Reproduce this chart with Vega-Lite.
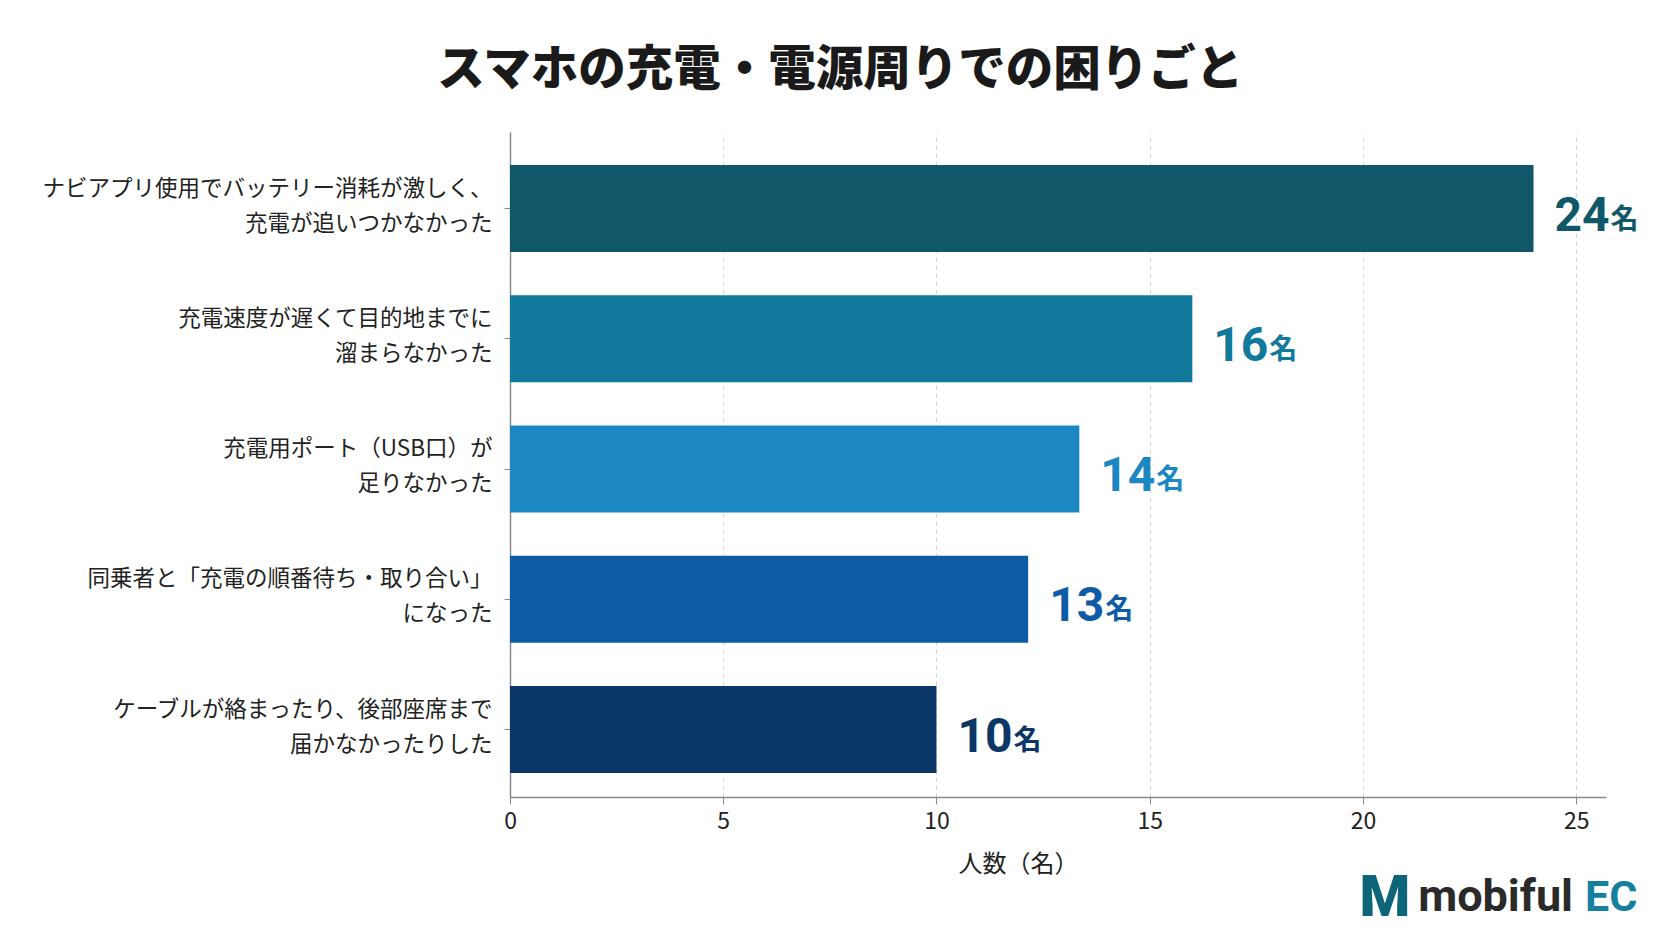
{
  "$schema": "https://vega.github.io/schema/vega-lite/v6.json",
  "width": 1096,
  "height": 665,
  "autosize": {"type": "none"},
  "padding": {"left": 510, "top": 132, "right": 66, "bottom": 144},
  "background": "#ffffff",
  "title": {
    "text": "スマホの充電・電源周りでの困りごと",
    "font": "Noto Sans CJK JP",
    "fontSize": 47.5,
    "fontWeight": 900,
    "color": "#1a1a1a",
    "anchor": "middle",
    "frame": "bounds",
    "offset": 38
  },
  "data": {
    "values": [
      {"label": "ナビアプリ使用でバッテリー消耗が激しく、\n充電が追いつかなかった", "value": 24, "count": 24},
      {"label": "充電速度が遅くて目的地までに\n溜まらなかった", "value": 16, "count": 16},
      {"label": "充電用ポート（USB口）が\n足りなかった", "value": 13.35, "count": 14},
      {"label": "同乗者と「充電の順番待ち・取り合い」\nになった", "value": 12.15, "count": 13},
      {"label": "ケーブルが絡まったり、後部座席まで\n届かなかったりした", "value": 10, "count": 10}
    ]
  },
  "encoding": {
    "y": {
      "field": "label",
      "type": "nominal",
      "sort": null,
      "scale": {"paddingInner": 0.332, "paddingOuter": 0.219, "align": 0.58},
      "axis": {
        "title": null,
        "labelExpr": "split(datum.label, '\\n')",
        "labelFont": "Noto Sans CJK JP",
        "labelFontSize": 22.5,
        "labelColor": "#222222",
        "labelLineHeight": 35,
        "labelLimit": 600,
        "labelPadding": 12,
        "labelOffset": -20,
        "tickSize": 6,
        "tickColor": "#8a8a8a",
        "domainColor": "#8a8a8a",
        "domainWidth": 1.5
      }
    },
    "x": {
      "field": "value",
      "type": "quantitative",
      "scale": {"domain": [0, 25.7], "nice": false},
      "axis": {
        "values": [0, 5, 10, 15, 20, 25],
        "title": "人数（名）",
        "grid": true,
        "gridDash": [4, 4],
        "gridColor": "#d4d4d4",
        "domainColor": "#8a8a8a",
        "domainWidth": 1.5,
        "tickColor": "#8a8a8a",
        "tickSize": 7,
        "labelFlush": false,
        "labelFont": "Noto Sans CJK JP",
        "labelFontSize": 23,
        "labelColor": "#222222",
        "labelPadding": 6,
        "titleFont": "Noto Sans CJK JP",
        "titleFontSize": 24,
        "titleFontWeight": "normal",
        "titleColor": "#222222",
        "titlePadding": 19,
        "titleX": 508
      }
    }
  },
  "layer": [
    {
      "mark": {"type": "bar"},
      "encoding": {
        "color": {
          "field": "label",
          "type": "nominal",
          "sort": null,
          "scale": {"range": ["#105867", "#117a9c", "#1b88c4", "#0e5ca6", "#0b3768"]},
          "legend": null
        }
      }
    },
    {
      "mark": {
        "type": "text",
        "align": "left",
        "baseline": "alphabetic",
        "dx": 21,
        "dy": 22,
        "font": "Roboto",
        "fontSize": 48,
        "fontWeight": "bold"
      },
      "encoding": {
        "text": {"field": "count", "type": "quantitative"},
        "color": {"field": "label", "type": "nominal", "sort": null, "legend": null}
      }
    },
    {
      "mark": {
        "type": "text",
        "text": "名",
        "align": "left",
        "baseline": "alphabetic",
        "dx": 77,
        "dy": 20,
        "font": "Noto Sans CJK JP",
        "fontSize": 28,
        "fontWeight": "bold"
      },
      "encoding": {
        "color": {"field": "label", "type": "nominal", "sort": null, "legend": null}
      }
    },
    {
      "transform": [{"filter": "datum.count == 10"}],
      "mark": {
        "type": "text",
        "text": "M",
        "align": "center",
        "baseline": "alphabetic",
        "dx": -221,
        "dy": 186,
        "font": "Roboto",
        "fontSize": 58,
        "fontWeight": 900,
        "color": "#0d6677"
      },
      "encoding": {
        "x": {"datum": 25.7}
      }
    },
    {
      "transform": [{"filter": "datum.count == 10"}],
      "mark": {
        "type": "text",
        "text": "mobiful",
        "align": "right",
        "baseline": "alphabetic",
        "dx": -33,
        "dy": 181,
        "font": "Roboto",
        "fontSize": 45,
        "fontWeight": "bold",
        "color": "#2a2a2a"
      },
      "encoding": {
        "x": {"datum": 25.7}
      }
    },
    {
      "transform": [{"filter": "datum.count == 10"}],
      "mark": {
        "type": "text",
        "text": "EC",
        "align": "left",
        "baseline": "alphabetic",
        "dx": -21,
        "dy": 181,
        "font": "Roboto",
        "fontSize": 43,
        "fontWeight": "bold",
        "color": "#1580a0"
      },
      "encoding": {
        "x": {"datum": 25.7}
      }
    }
  ],
  "config": {
    "view": {"stroke": null}
  }
}
